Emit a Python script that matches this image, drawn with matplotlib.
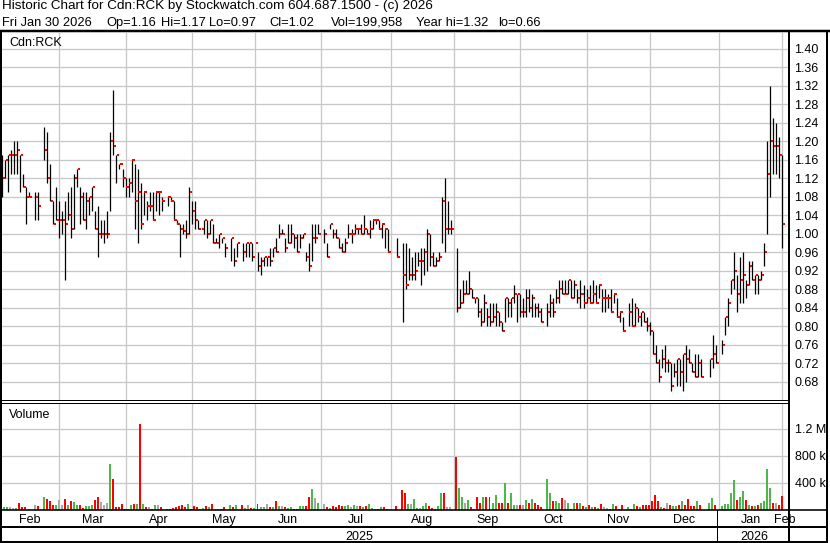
import matplotlib
matplotlib.use('Agg')
import matplotlib.pyplot as plt
from matplotlib.lines import Line2D
import numpy as np

plt.rcParams['font.family'] = ['Liberation Sans', 'DejaVu Sans']

N = None
# ---- daily data (one slot per weekday, None = no trade) ----
high = [1.17,1.16,1.17,1.18,1.20,1.20,1.17,1.13,1.10,1.09, N,1.09,1.09, N,1.23,1.22,1.15,1.07,1.10,1.07,
        1.05,1.07,1.09,1.10,1.13,1.14,1.10,1.09,1.09,1.08,1.10,1.05,1.06,1.03,1.03,1.05,1.22,1.31,1.17,1.15,
        1.14,1.12,1.12,1.16,1.15,1.14,1.11,1.09,1.07,1.09,1.09,1.09,1.09,1.08, N,1.08,1.08,1.07,1.03,1.02,
        1.02,1.03,1.10,1.07,1.07,1.03,1.01,1.03,1.03,1.03,1.02,0.99,1.00,0.99,0.98, N,0.99,0.97,0.98, N,
        0.98,0.98,0.98,0.98,0.98,0.96,0.95,0.95,0.95,0.97,0.97,0.99,1.02,1.01,0.99,1.02,1.02,1.00,1.00,1.00,
        1.00,0.96,0.98,1.02,1.02,1.02, N,1.01,0.98,1.02,1.01,1.01,0.99,0.98,0.99,1.02,1.01,1.02,1.01,1.02,
        1.04,1.01,1.03,1.03,1.03,1.03,1.02,1.01,1.01, N, N,0.99, N,0.98,0.98,0.97,0.95,0.96,0.96,0.97,
        0.97,1.01,1.00,0.96,0.95,0.96,1.08,1.12,1.07,1.03, N,0.97,0.88,0.90,0.90,0.92,0.88,0.86,0.86,0.84,
        0.87,0.84,0.85,0.85,0.85,0.83,0.81,0.86,0.86,0.86,0.89,0.87,0.87,0.86,0.88,0.88,0.87,0.85,0.85,0.84,
        N,0.85,0.87,0.86,0.88,0.90,0.90,0.90,0.90,0.90,0.90,0.88,0.90,0.89,0.88,0.89,0.90,0.89,0.89,0.88,
        0.88,0.87,0.88,0.87,0.86,0.83,0.82, N,0.85,0.86,0.85,0.84,0.83,0.83,0.82,0.81,0.79,0.76,0.73,0.75,
        0.76,0.73,0.72,0.72,0.73,0.73,0.74,0.76,0.75,0.72,0.74,0.74,0.73, N, N,0.73,0.78,0.76, N,0.77,
        0.82,0.86,0.90,0.96,0.91,0.95,0.96,0.90,0.94,0.94,0.91,0.91,0.92,0.98,1.20,1.32,1.25,1.24,1.21,1.17]
low = [1.08,1.12,1.09,1.13,1.13,1.13,1.09,1.10,1.02,1.08, N,1.03,1.03, N,1.16,1.11,1.07,1.02,1.03,0.99,
       1.00,0.90,1.03,0.99,1.01,1.10,1.02,1.03,1.01,1.04,1.05,1.01,0.95,0.99,0.98,0.99,1.05,1.17,1.11,1.14,
       1.10,1.08,1.08,1.09,1.01,0.98,1.01,1.04,1.03,1.05,1.03,1.05,1.04,1.05, N,1.06,1.07,1.03,1.02,0.95,
       1.00,0.99,1.00,1.02,1.01,1.01,1.01,1.00,0.99,1.00,0.98,0.98,0.97,0.98,0.95, N,0.94,0.93,0.95, N,
       0.94,0.95,0.95,0.94,0.98,0.92,0.91,0.93,0.93,0.93,0.95,0.96,0.99,1.00,0.96,0.98,0.98,0.97,0.96,0.97,
       0.99,0.94,0.92,0.94,0.98,1.00, N,0.98,0.95,1.01,0.99,0.99,0.97,0.96,0.96,0.99,0.98,1.00,1.00,1.00,
       1.00,1.00,0.99,1.01,1.02,1.01,0.99,0.97,0.96, N, N,0.95, N,0.81,0.88,0.90,0.90,0.90,0.93,0.89,
       0.91,0.92,0.93,0.93,0.93,0.94,0.98,0.96,1.00,1.00, N,0.83,0.84,0.85,0.87,0.87,0.86,0.85,0.82,0.80,
       0.81,0.80,0.80,0.81,0.80,0.80,0.79,0.81,0.82,0.82,0.85,0.81,0.82,0.82,0.82,0.83,0.82,0.82,0.82,0.81,
       N,0.80,0.82,0.82,0.85,0.85,0.87,0.87,0.87,0.86,0.86,0.85,0.84,0.84,0.85,0.85,0.85,0.85,0.86,0.83,
       0.83,0.84,0.83,0.85,0.82,0.81,0.79, N,0.80,0.80,0.80,0.81,0.80,0.81,0.79,0.78,0.74,0.72,0.68,0.71,
       0.70,0.70,0.66,0.69,0.67,0.67,0.66,0.68,0.72,0.70,0.69,0.69,0.69, N, N,0.69,0.71,0.72, N,0.74,
       0.78,0.80,0.87,0.88,0.83,0.85,0.85,0.86,0.89,0.90,0.87,0.87,0.90,0.93,1.00,1.08,1.13,1.13,1.12,0.97]
close = [1.12,1.16,1.17,1.17,1.17,1.18,1.17,1.10,1.08,1.08, N,1.08,1.06, N,1.18,1.12,1.07,1.02,1.03,1.03,
         1.03,1.02,1.04,1.01,1.12,1.14,1.08,1.03,1.07,1.08,1.10,1.01,1.00,1.00,1.00,1.00,1.20,1.19,1.17,1.15,
         1.12,1.10,1.11,1.16,1.07,1.09,1.02,1.09,1.06,1.06,1.03,1.09,1.09,1.07, N,1.08,1.07,1.03,1.02,1.01,
         1.005,1.00,1.09,1.05,1.03,1.01,1.01,1.03,1.00,1.03,0.98,0.98,1.00,0.99,0.97, N,0.99,0.94,0.98, N,
         0.96,0.98,0.98,0.95,0.98,0.93,0.94,0.95,0.95,0.94,0.97,0.96,1.00,1.00,0.97,0.98,1.00,0.99,0.96,0.99,
         1.00,0.95,0.93,0.99,0.99,1.00, N,1.00,0.95,1.02,1.00,0.99,0.97,0.96,0.98,1.00,1.00,1.01,1.01,1.00,
         1.01,1.00,1.01,1.03,1.03,1.01,1.02,1.01,0.96, N, N,0.95, N,0.91,0.89,0.91,0.91,0.92,0.94,0.94,
         0.96,1.00,0.95,0.93,0.94,0.95,1.07,1.01,1.01,1.01, N,0.84,0.85,0.87,0.87,0.88,0.86,0.86,0.83,0.81,
         0.85,0.82,0.81,0.82,0.83,0.81,0.79,0.86,0.85,0.86,0.87,0.87,0.83,0.83,0.86,0.84,0.86,0.84,0.83,0.81,
         N,0.83,0.85,0.83,0.86,0.88,0.87,0.87,0.90,0.86,0.89,0.86,0.87,0.85,0.86,0.85,0.87,0.85,0.89,0.86,
         0.86,0.86,0.83,0.87,0.82,0.83,0.79, N,0.83,0.80,0.84,0.82,0.83,0.81,0.80,0.79,0.74,0.72,0.69,0.73,
         0.72,0.72,0.67,0.70,0.73,0.70,0.74,0.73,0.72,0.70,0.69,0.72,0.69, N, N,0.73,0.74,0.72, N,0.76,
         0.82,0.85,0.90,0.92,0.87,0.90,0.91,0.89,0.93,0.90,0.91,0.90,0.91,0.96,1.13,1.20,1.19,1.19,1.17,1.02]
volume_k = [30,30,30,30,20,20,94,30,30,10, 0,60,45, 0,193,154,119,69,69,134,
            69,154,60,119,109,60,60,20,45,45,60,134,193,109,60,94,684,451,30,30,
            79,10,10,60,79,79,1265,79,30,30,10,60,60,30, 0,10,10,20,30,45,
            60,30,89,10,45,30,10,20,45,30,79,10,10,10,30, 0,60,30,60, 0,
            60,20,60,20,20,79,30,30,79,30,30,119,45,45,30,20,30,10,10,45,
            45,45,184,312,164,104, 0,79,30,20,45,30,60,45,45,60,30,60,45,45,
            30,45,79,20,10,10,30,30,10, 0, 0,45, 0,283,238,79,79,149,20,20,
            45,104,45,20,10,45,238,238,30,30, 0,774,327,184,104,134,30,10,184,94,
            193,193,184,104,223,104,104,387,94,238,60,60,60,60,134,94,149,94,60,30,
            0,451,238,119,119,94,164,134,104,10,94,94,94,45,30,60,30,30,20,79,
            30,20,10,79,45,10,60, 0,30,10,79,45,30,60,60,69,119,223,119,30,
            20,104,60,45,45,60,119,60,149,45,45,119,60, 0, 0,104,164,69, 0,45,
            79,79,238,432,134,184,268,134,69,45,45,69,104,119,595,327,104,104,60,200]

month_labels = ['Feb', 'Mar', 'Apr', 'May', 'Jun', 'Jul', 'Aug', 'Sep', 'Oct', 'Nov', 'Dec', 'Jan', 'Feb']
month_start = [19, 41, 63, 84, 106, 129, 150, 172, 194, 215, 238, 259]
year_labels = ['2025', '2026']
year_start = [238]
price_ticks = [0.68, 0.72, 0.76, 0.80, 0.84, 0.88, 0.92, 0.96, 1.00, 1.04, 1.08, 1.12,
               1.16, 1.20, 1.24, 1.28, 1.32, 1.36, 1.40]
vol_ticks = [400000, 800000, 1200000]
vol_tick_labels = ['400 k', '800 k', '1.2 M']
title_line1 = 'Historic Chart for Cdn:RCK by Stockwatch.com 604.687.1500 - (c) 2026'
title_line2 = ['Fri Jan 30 2026', 'Op=1.16', 'Hi=1.17', 'Lo=0.97', 'Cl=1.02',
               'Vol=199,958', 'Year hi=1.32', 'lo=0.66']

# ---- layout helpers (pixel geometry) ----
W, H = 830, 543
fig = plt.figure(figsize=(W / 100, H / 100), dpi=100, facecolor='white')
PX = 0.72  # one pixel in points


def fx(px):
    return px / W


def fy(py):
    return 1 - py / H


def box(x0, y0, x1, y1):
    return [fx(x0), fy(y1), (x1 - x0) / W, (y1 - y0) / H]


n = len(close)
idx = np.arange(n)
hi = np.array([np.nan if v is None else v for v in high])
lo = np.array([np.nan if v is None else v for v in low])
cl = np.array([np.nan if v is None else v for v in close])
vol = np.array(volume_k, dtype=float) * 1000
ok = ~np.isnan(cl)

XL = (-0.66, 261.2)
GRID = '#c8c8c8'
FS = 9

ax_p = fig.add_axes(box(0, 33, 789, 400))
ax_v = fig.add_axes(box(0, 403, 789, 509.5))
ax_d = fig.add_axes(box(0, 510, 789, 541))

for ax in (ax_p, ax_v, ax_d):
    ax.set_xlim(*XL)
    for s in ax.spines.values():
        s.set_visible(False)
    ax.set_xticks([])
    ax.tick_params(left=False, right=False, bottom=False, top=False)

# price panel
ax_p.set_ylim(1.40 - (400 - 48.7) / 462.5, 1.40 + (48.7 - 33) / 462.5)
for t in price_ticks:
    ax_p.axhline(t, color=GRID, lw=PX * 1.3, zorder=0)
for m in month_start:
    ax_p.axvline(m, color=GRID, lw=PX * 1.3, zorder=0)
ax_p.vlines(idx[ok], lo[ok], hi[ok], colors='black', lw=PX * 1.25, zorder=2)
ax_p.hlines(cl[ok], idx[ok] + 0.25, idx[ok] + 1.0, colors='#ff0000', lw=PX * 2, zorder=3)
ax_p.yaxis.tick_right()
ax_p.set_yticks(price_ticks)
ax_p.set_yticklabels([f'{t:.2f}' for t in price_ticks], fontsize=FS)
ax_p.tick_params(axis='y', length=0, pad=4)
ax_p.text(9 / 789, 1 - (46.5 - 33) / 367, 'Cdn:RCK', transform=ax_p.transAxes,
          fontsize=FS, va='baseline', ha='left')

# volume panel
ax_v.set_ylim(0, (509.5 - 403) / 26.9 * 400000)
for t in vol_ticks:
    ax_v.axhline(t, color=GRID, lw=PX * 1.3, zorder=0)
for m in month_start:
    ax_v.axvline(m, color=GRID, lw=PX * 1.3, zorder=0)
prev = np.nan
vcols = []
for i in idx:
    c = cl[i]
    if np.isnan(c) or np.isnan(prev) or abs(c - prev) < 1e-9:
        vcols.append('#a8a8a8')
    elif c > prev:
        vcols.append('#4cb84c')
    else:
        vcols.append('#ff0000')
    if not np.isnan(c):
        prev = c
ax_v.bar(idx - 0.2, vol, width=0.66, color=vcols, linewidth=0, zorder=2)
ax_v.yaxis.tick_right()
ax_v.set_yticks(vol_ticks)
ax_v.set_yticklabels(vol_tick_labels, fontsize=FS)
ax_v.tick_params(axis='y', length=0, pad=4)
ax_v.text(9.3 / 789, 1 - (417.5 - 403) / 106.5, 'Volume', transform=ax_v.transAxes,
          fontsize=FS, va='baseline', ha='left')

# date axis
ax_d.set_ylim(0, 1)
ax_d.set_yticks([])
bounds = [XL[0]] + month_start + [XL[1] - 0.4]
for k, lab in enumerate(month_labels):
    xm = (bounds[k] + bounds[k + 1]) / 2
    ax_d.text(xm, 1 - (523.3 - 510) / 31, lab, fontsize=FS, ha='center', va='baseline',
              clip_on=False)
ybounds = [XL[0]] + year_start + [XL[1]]
for k, lab in enumerate(year_labels):
    xm = (ybounds[k] + ybounds[k + 1]) / 2
    ax_d.text(xm, 1 - (539.8 - 510) / 31, lab, fontsize=FS, ha='center', va='baseline')
for y in year_start:
    ax_d.axvline(y - 0.6, color='black', lw=PX)

# header
fig.text(fx(2), fy(9.5), title_line1, fontsize=9.7, ha='left', va='baseline')
for s, x in zip(title_line2, [2, 106, 161, 209, 269, 331, 416, 498]):
    fig.text(fx(x), fy(25.8), s, fontsize=9.3, ha='left', va='baseline')


def hline(y, x0, x1, w):
    fig.add_artist(Line2D([fx(x0), fx(x1)], [fy(y), fy(y)], color='black', lw=w * PX,
                          transform=fig.transFigure))


def vline(x, y0, y1, w):
    fig.add_artist(Line2D([fx(x), fx(x)], [fy(y0), fy(y1)], color='black', lw=w * PX,
                          transform=fig.transFigure))


hline(31, 0, 830, 2.5)
hline(400, 0, 789, 1)
hline(402.5, 0, 789, 1)
hline(509.8, 0, 827, 1.6)
hline(527, 0, 827, 2)
hline(541.5, 0, 827, 2)
vline(1, 31, 542, 2)
vline(789.3, 31, 542, 2)
vline(827, 31, 542, 2)

fig.savefig('out.png', dpi=100, facecolor='white')
